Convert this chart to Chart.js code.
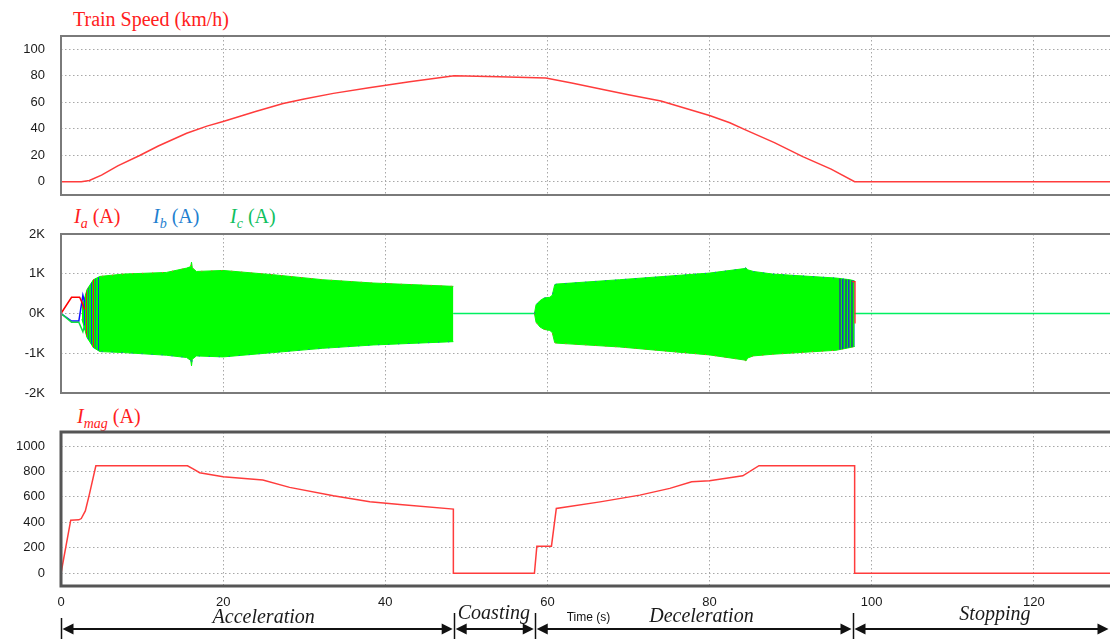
<!DOCTYPE html>
<html>
<head>
<meta charset="utf-8">
<script src="https://cdn.jsdelivr.net/npm/chart.js@4.4.1/dist/chart.umd.min.js"></script>
<style>
  html, body { margin: 0; padding: 0; background: #fff; overflow: hidden; width: 1110px; height: 639px; }
  canvas { position: absolute; left: 0; }
  .ttl { position: absolute; font-family: "Liberation Serif", serif; font-size: 20px; line-height: 1; white-space: nowrap; }
  .ttl i { font-style: italic; }
  .ttl sub { font-size: 14px; vertical-align: -5px; line-height: 1; }
</style>
</head>
<body>
<div class="ttl" style="left:73px;top:9px;color:#ff2020">Train Speed (km/h)</div>
<div class="ttl" style="left:74px;top:206px;color:#ff2020"><i>I</i><sub><i>a</i></sub> (A)</div>
<div class="ttl" style="left:153px;top:206px;color:#1f7fd0"><i>I</i><sub><i>b</i></sub> (A)</div>
<div class="ttl" style="left:230px;top:206px;color:#10c060"><i>I</i><sub><i>c</i></sub> (A)</div>
<div class="ttl" style="left:77px;top:406px;color:#ff2020"><i>I</i><sub><i>mag</i></sub> (A)</div>

<canvas id="speed" width="1110" height="180" style="top:28px"></canvas>
<canvas id="current" width="1110" height="183" style="top:222px"></canvas>
<canvas id="imag" width="1110" height="217" style="top:422px"></canvas>

<script>
// time axis (s)
const X_MAX = 129.4
const xTicks = [0, 20, 40, 60, 80, 100, 120]

// train speed (km/h)
const speedT = [0, 2.5, 3.5, 5, 7, 9.7, 12, 15.5, 18, 20, 24, 27.4, 30, 33.6, 38, 43, 48.5, 54, 59.8, 63, 67, 70, 74, 77, 80, 82.5, 84.5, 88, 91.5, 95, 97.9, 129.4]
const speedV = [0, 0, 1, 5, 12, 19.8, 27, 36.6, 42, 45.5, 53, 59, 62.5, 66.7, 71, 75.5, 80, 79.3, 78.3, 74.5, 69.5, 65.7, 61, 55.5, 50, 44.5, 39, 29.5, 19, 9.5, 0, 0]
const speedTicks = [0, 20, 40, 60, 80, 100]

// phase currents: envelope of the ac waveform (A)
const accelT  = [2.6, 3.2, 4.0, 4.8, 7.7, 13.0, 15.5, 16.0, 16.1, 16.2, 16.7, 20.0, 26.2, 32.3, 38.5, 48.4]
const accelUp = [150, 600, 850, 933, 992, 1033, 1142, 1180, 1292, 1150, 1058, 1083, 975, 850, 767, 683]
const accelLo = [-150, -600, -858, -958, -983, -1050, -1108, -1180, -1317, -1150, -1067, -1092, -983, -875, -792, -708]
const decelT  = [58.4, 58.6, 59.1, 59.6, 60.3, 60.6, 60.9, 61.1, 68.9, 80.0, 84.3, 84.5, 84.7, 85.4, 87.8, 95.6, 97.3, 97.9]
const decelUp = [0, 220, 325, 390, 408, 460, 725, 740, 850, 1017, 1130, 1150, 1100, 1058, 992, 892, 850, 820]
const decelLo = [0, -220, -342, -400, -425, -480, -733, -745, -842, -1042, -1170, -1192, -1120, -1067, -1025, -925, -858, -830]
// mixed-colour streaks where the three phases overlap
const startMixT  = [2.6, 3.2, 4.0, 4.8]
const startMixUp = [150, 600, 850, 933]
const startMixLo = [-150, -600, -858, -958]
const endMixT  = [95.9, 97.3, 97.9]
const endMixUp = [880, 850, 820]
const endMixLo = [-915, -858, -830]
// start-up traces before the waveform builds up
const iaStartT = [0, 1.3, 2.3, 2.7, 2.9]
const iaStartV = [0, 408, 408, 225, 100]
const ibStartT = [0, 1.3, 2.2, 2.7, 2.9]
const ibStartV = [0, -191, -191, 458, 300]
const icStartT = [0, 1.3, 2.2, 2.7, 2.9]
const icStartV = [0, -217, -217, -458, -300]
const iaEndT = [97.6, 97.95, 97.95]
const iaEndV = [800, 800, -250]
// zero current while coasting and stopped
const coastT = [48.4, 58.4]
const stopT = [97.9, 129.4]
const currentTicks = [-2000, -1000, 0, 1000, 2000]
const currentTickLabels = ['-2K', '-1K', '0K', '1K', '2K']

// magnitude of current (A)
const imagT = [0, 1.2, 2.2, 2.5, 3.0, 3.5, 4.3, 15.6, 16.3, 17.1, 20, 24.9, 28.2, 33.6, 38.1, 41.8, 48.4, 48.4, 58.4, 58.7, 60.5, 61.1, 66.5, 71.4, 75.1, 77.8, 80, 84.1, 86.1, 97.9, 97.9, 129.4]
const imagV = [0, 417, 420, 430, 490, 620, 845, 845, 820, 790, 758, 732, 675, 609, 562, 541, 504, 0, 0, 213, 213, 509, 561, 614, 667, 719, 727, 766, 845, 845, 0, 0]
const imagTicks = [0, 200, 400, 600, 800, 1000]

// operating phases
const phaseNames = ['Acceleration', 'Coasting', 'Deceleration', 'Stopping']
const phaseBounds = [0, 48.5, 58.5, 97.7, X_MAX]
const phaseLabelAt = [25, 53.4, 79, 115.2]
const phaseBaseline = [201, 197, 200, 198]

const pts = (t, v) => t.map((x, i) => ({ x: x, y: v[i] }))

const tickFont = { family: '"Liberation Sans", Arial, sans-serif', size: 13 }
const gridColor = '#a8a8a8'

// vertical stripes of the overlapping phase colours
function stripes(colors) {
  const c = document.createElement('canvas')
  c.width = colors.length
  c.height = 4
  const g = c.getContext('2d')
  colors.forEach((col, i) => { g.fillStyle = col; g.fillRect(i, 0, 1, 4) })
  return g.createPattern(c, 'repeat')
}

const boxPlugin = {
  id: 'box',
  afterDatasetsDraw(chart, args, opts) {
    const { ctx, chartArea: a } = chart
    ctx.save()
    ctx.strokeStyle = opts.color
    ctx.lineWidth = opts.width
    ctx.beginPath()
    ctx.moveTo(a.right + 5, a.top)
    ctx.lineTo(a.left, a.top)
    ctx.lineTo(a.left, a.bottom)
    ctx.lineTo(a.right + 5, a.bottom)
    ctx.stroke()
    ctx.restore()
  }
}

const phasePlugin = {
  id: 'phases',
  afterDraw(chart) {
    const { ctx, chartArea: a } = chart
    const x = chart.scales.x
    const yArrow = 207
    ctx.save()
    ctx.fillStyle = '#111'
    ctx.strokeStyle = '#111'

    // axis title
    ctx.font = '12px "Liberation Sans", Arial, sans-serif'
    ctx.textAlign = 'center'
    ctx.textBaseline = 'alphabetic'
    ctx.fillText('Time (s)', (a.left + a.right) / 2 + 3, 199)

    // separators
    ctx.lineWidth = 1.5
    phaseBounds.slice(0, -1).forEach((b, i) => {
      const px = Math.round(x.getPixelForValue(b)) + 0.5
      ctx.beginPath()
      ctx.moveTo(px, i === 0 ? 196 : 191)
      ctx.lineTo(px, 217)
      ctx.stroke()
    })

    // arrows
    const head = (tip, dir) => {
      ctx.beginPath()
      ctx.moveTo(tip, yArrow)
      ctx.lineTo(tip - dir * 11, yArrow - 5.5)
      ctx.lineTo(tip - dir * 11, yArrow + 5.5)
      ctx.closePath()
      ctx.fill()
    }
    ctx.lineWidth = 2
    for (let i = 0; i < phaseNames.length; i++) {
      const p0 = x.getPixelForValue(phaseBounds[i]) + 1.5
      const p1 = Math.min(x.getPixelForValue(phaseBounds[i + 1]), a.right) - 1.5
      ctx.beginPath()
      ctx.moveTo(p0 + 4, yArrow)
      ctx.lineTo(p1 - 4, yArrow)
      ctx.stroke()
      head(p0, -1)
      head(p1, 1)
    }

    // phase names
    ctx.font = 'italic 20px "Liberation Serif", "Times New Roman", serif'
    ctx.fillStyle = '#1a1a1a'
    phaseNames.forEach((n, i) => {
      ctx.fillText(n, x.getPixelForValue(phaseLabelAt[i]), phaseBaseline[i])
    })
    ctx.restore()
  }
}

function makePanel(id, datasets, yMin, yMax, yTicks, yLabels, padTop, padBottom, xHeight, showX, box, plugins) {
  return new Chart(document.getElementById(id), {
    type: 'line',
    data: { datasets: datasets },
    plugins: [boxPlugin].concat(plugins || []),
    options: {
      responsive: false,
      animation: false,
      layout: { padding: { top: padTop, bottom: padBottom, left: 0, right: 0 } },
      elements: { point: { radius: 0 }, line: { tension: 0 } },
      plugins: { legend: { display: false }, tooltip: { enabled: false }, box: box },
      scales: {
        x: {
          type: 'linear', min: 0, max: X_MAX,
          afterBuildTicks: s => { s.ticks = xTicks.map(v => ({ value: v })) },
          afterFit: s => { s.height = xHeight },
          grid: { color: gridColor, lineWidth: 1, drawTicks: false },
          border: { display: false, dash: [1.5, 2.5] },
          ticks: { display: showX, padding: 9, font: tickFont, color: '#1a1a1a', maxRotation: 0, autoSkip: false }
        },
        y: {
          min: yMin, max: yMax,
          afterBuildTicks: s => { s.ticks = yTicks.map(v => ({ value: v })) },
          afterFit: s => { s.width = 61 },
          grid: { color: gridColor, lineWidth: 1, drawTicks: true, tickLength: 16, tickColor: 'rgba(0,0,0,0)' },
          border: { display: false, dash: [1.5, 2.5] },
          ticks: { padding: 0, font: tickFont, color: '#1a1a1a', callback: (v, i) => yLabels[i] }
        }
      }
    }
  })
}

const red = '#ff3c3c'
const green = '#00ff00'
const startMix = stripes(['#2030e0', '#00ff00', '#e02020', '#00ff00', '#208080', '#00ff00', '#00ff00'])
const endMix = stripes(['#206f70', '#00ff00', '#1a3ad0', '#2a8a60', '#00ff00', '#206f70'])

makePanel('speed', [
  { data: pts(speedT, speedV), borderColor: red, borderWidth: 1.5, fill: false }
], -10, 110, speedTicks, speedTicks.map(String), 8, 13, 0, false, { color: '#7a7a7a', width: 2 })

makePanel('current', [
  { data: pts(iaEndT, iaEndV), borderColor: '#ff2020', borderWidth: 1.2, fill: false },
  { data: pts(iaStartT, iaStartV), borderColor: '#ff0000', borderWidth: 1.5, fill: false },
  { data: pts(icStartT, icStartV), borderColor: '#10e040', borderWidth: 1.5, fill: false },
  { data: pts(ibStartT, ibStartV), borderColor: '#1010ff', borderWidth: 1.5, fill: false },
  { data: pts(startMixT, startMixUp), borderWidth: 0, backgroundColor: startMix, fill: '+1' },
  { data: pts(startMixT, startMixLo), borderWidth: 0, fill: false },
  { data: pts(endMixT, endMixUp), borderWidth: 0, backgroundColor: endMix, fill: '+1' },
  { data: pts(endMixT, endMixLo), borderWidth: 0, fill: false },
  { data: pts(accelT, accelUp), borderColor: red, borderWidth: 1, borderDash: [1, 9], fill: false },
  { data: pts(accelT, accelLo), borderColor: '#2040ff', borderWidth: 1, borderDash: [1, 9], fill: false },
  { data: pts(decelT, decelUp), borderColor: '#2040ff', borderWidth: 1, borderDash: [1, 9], fill: false },
  { data: pts(decelT, decelLo), borderColor: red, borderWidth: 1, borderDash: [1, 9], fill: false },
  { data: pts(accelT, accelUp), borderColor: green, borderWidth: 1, backgroundColor: green, fill: '+1' },
  { data: pts(accelT, accelLo), borderColor: green, borderWidth: 1, fill: false },
  { data: pts(decelT, decelUp), borderColor: green, borderWidth: 1, backgroundColor: green, fill: '+1' },
  { data: pts(decelT, decelLo), borderColor: green, borderWidth: 1, fill: false },
  { data: pts(coastT, [0, 0]), borderColor: '#00f060', borderWidth: 1.5, fill: false },
  { data: pts(stopT, [0, 0]), borderColor: '#00f060', borderWidth: 1.5, fill: false }
], -2000, 2000, currentTicks, currentTickLabels, 12, 12, 0, false, { color: '#7a7a7a', width: 2 })

makePanel('imag', [
  { data: pts(imagT, imagV), borderColor: red, borderWidth: 1.5, fill: false }
], -100, 1110, imagTicks, imagTicks.map(String), 10, 0, 53, true, { color: '#555', width: 3 }, [phasePlugin])
</script>
</body>
</html>
